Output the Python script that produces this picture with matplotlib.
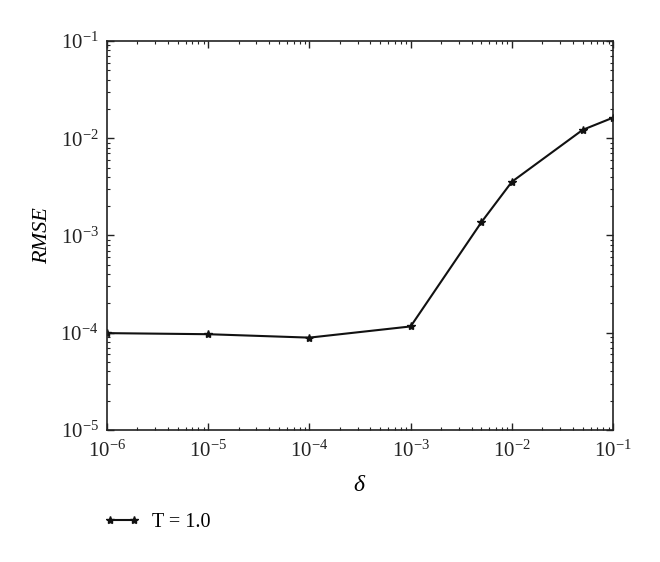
import numpy as np
import matplotlib
matplotlib.use('Agg')
import matplotlib.pyplot as plt
from matplotlib.ticker import LogLocator, NullFormatter

plt.rcParams['font.family'] = ['Liberation Serif', 'DejaVu Serif']
plt.rcParams['mathtext.fontset'] = 'custom'
plt.rcParams['mathtext.rm'] = 'Liberation Serif'
plt.rcParams['mathtext.it'] = 'Liberation Serif:italic'
plt.rcParams['mathtext.bf'] = 'Liberation Serif:bold'

# data
delta = [1e-6, 1e-5, 1e-4, 1e-3, 5e-3, 1e-2, 5e-2, 1e-1]
rmse = [0.99e-4, 0.965e-4, 0.89e-4, 1.16e-4, 1.37e-3, 3.57e-3, 1.22e-2, 1.63e-2]
series_label = 'T = 1.0'

fig = plt.figure(figsize=(6.6, 5.62), dpi=100, facecolor='white')
ax = fig.add_axes([0.162, 0.235, 0.767, 0.692])

line, = ax.plot(delta, rmse, color='#111111', linewidth=1.5, marker='*',
                markersize=6, label=series_label)

ax.set_xscale('log')
ax.set_yscale('log')
ax.set_xlim(1e-6, 1e-1)
ax.set_ylim(1e-5, 1e-1)

ax.xaxis.set_major_locator(LogLocator(base=10, numticks=10))
ax.yaxis.set_major_locator(LogLocator(base=10, numticks=10))
ax.xaxis.set_minor_locator(LogLocator(base=10, subs=np.arange(2, 10), numticks=20))
ax.yaxis.set_minor_locator(LogLocator(base=10, subs=np.arange(2, 10), numticks=20))
ax.xaxis.set_minor_formatter(NullFormatter())
ax.yaxis.set_minor_formatter(NullFormatter())

ax.tick_params(which='both', direction='in', top=True, right=True, colors='#222222')
ax.tick_params(which='major', length=5, width=1, labelsize=15)
ax.tick_params(axis='x', which='major', pad=8)
ax.tick_params(axis='y', which='major', pad=6)
ax.tick_params(which='minor', length=2.5, width=0.8)
for spine in ax.spines.values():
    spine.set_color('#222222')
    spine.set_linewidth(1.2)

ax.set_xlabel(r'$\delta$', fontsize=17, labelpad=9)
ax.set_ylabel('RMSE', fontsize=16, fontstyle='italic', labelpad=6)

fig.legend(handles=[line], loc='center left', bbox_to_anchor=(0.13, 0.071),
           frameon=False, fontsize=14.5, handlelength=1.8, handletextpad=0.6,
           numpoints=2)

fig.savefig('out.png', dpi=100, facecolor=fig.get_facecolor())
